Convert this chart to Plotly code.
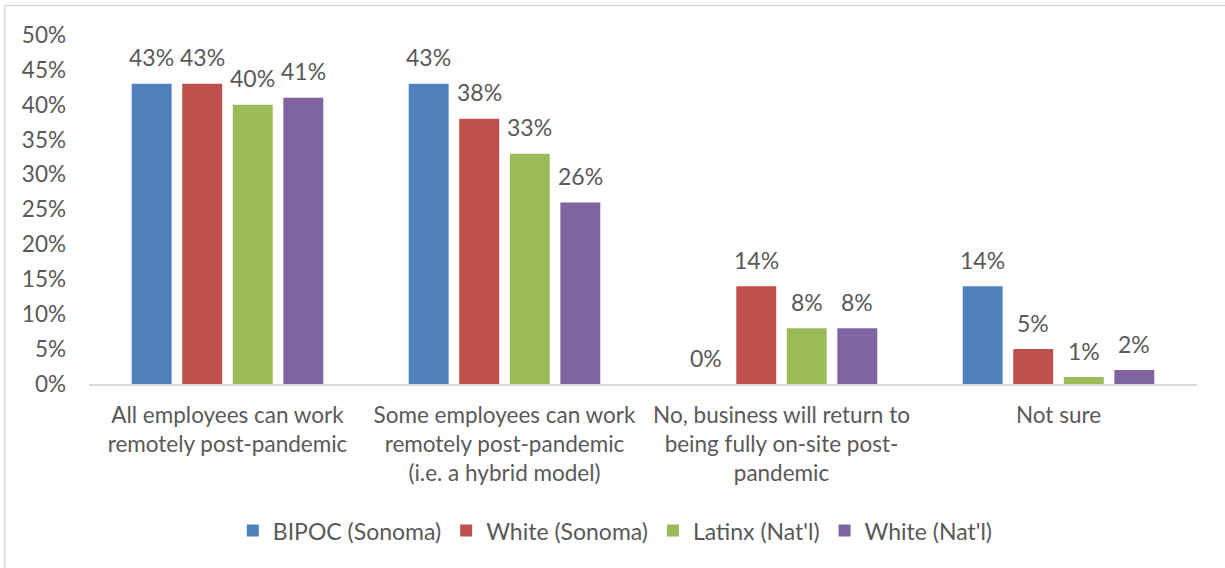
import plotly.graph_objects as go

categories = [
    "All employees can work<br>remotely post-pandemic",
    "Some employees can work<br>remotely post-pandemic<br>(i.e. a hybrid model)",
    "No, business will return to<br>being fully on-site post-<br>pandemic",
    "Not sure",
]
series_names = ["BIPOC (Sonoma)", "White (Sonoma)", "Latinx (Nat'l)", "White (Nat'l)"]
bipoc_sonoma = [0.43, 0.43, 0.00, 0.14]
white_sonoma = [0.43, 0.38, 0.14, 0.05]
latinx_natl = [0.40, 0.33, 0.08, 0.01]
white_natl = [0.41, 0.26, 0.08, 0.02]
series_values = [bipoc_sonoma, white_sonoma, latinx_natl, white_natl]
colors = ["#4F81BD", "#C0504D", "#9BBB59", "#8064A2"]
y_ticks = [0, 0.05, 0.10, 0.15, 0.20, 0.25, 0.30, 0.35, 0.40, 0.45, 0.50]

FONT = "Lato"
TEXT = "#595959"

W, H = 1225, 568
L, R, T, B = 89, 28, 35, 184
pw, ph = W - L - R, H - T - B

BARGAP = 0.27
BARGROUPGAP = 0.21
n_series = len(series_names)
slot_px = pw / len(categories) * (1 - BARGAP) / n_series

fig = go.Figure()
annotations = []
for i, (name, vals, col) in enumerate(zip(series_names, series_values, colors)):
    fig.add_trace(go.Bar(
        name=name,
        x=categories,
        y=vals,
        marker=dict(color=col, line=dict(width=0)),
    ))
    # value labels sit a little above each bar, centred on its slot in the group
    for cat, v in zip(categories, vals):
        annotations.append(dict(
            x=cat, y=v, xref="x", yref="y",
            text=f"{v:.0%}", showarrow=False,
            xanchor="center", yanchor="middle",
            xshift=(i - (n_series - 1) / 2) * slot_px,
            yshift=26.5,
            font=dict(family=FONT, size=23, color=TEXT),
        ))

fig.update_layout(
    width=W, height=H,
    margin=dict(l=L, r=R, t=T, b=B),
    paper_bgcolor="white",
    plot_bgcolor="white",
    barmode="group",
    bargap=BARGAP,
    bargroupgap=BARGROUPGAP,
    font=dict(family=FONT, size=23, color=TEXT),
    showlegend=True,
    legend=dict(
        orientation="h",
        x=0.475, xanchor="center",
        y=-0.42, yanchor="middle",
        font=dict(family=FONT, size=23, color=TEXT),
        itemwidth=30,
        traceorder="normal",
    ),
    xaxis=dict(
        showline=True, linecolor="#D9D9D9", linewidth=1.5,
        showgrid=False, ticks="", tickfont=dict(size=22.5, color=TEXT),
        ticklabelstandoff=10,
    ),
    yaxis=dict(
        range=[0, 0.5], tickvals=y_ticks, tickformat=".0%",
        showgrid=False, showline=False, zeroline=False, ticks="",
        tickfont=dict(size=22.5, color=TEXT),
        ticklabelstandoff=22,
    ),
    annotations=annotations,
    shapes=[
        # chart frame (top and left edges)
        dict(type="line", xref="paper", yref="paper",
             x0=(4.5 - L) / pw, x1=(W + 10 - L) / pw,
             y0=(H - B - 5.5) / ph, y1=(H - B - 5.5) / ph,
             line=dict(color="#D9D9D9", width=1.5)),
        dict(type="line", xref="paper", yref="paper",
             x0=(4.5 - L) / pw, x1=(4.5 - L) / pw,
             y0=(H - B - 5.5) / ph, y1=-(B + 10) / ph,
             line=dict(color="#D9D9D9", width=1.5)),
    ],
)

fig.write_html("out.html")
